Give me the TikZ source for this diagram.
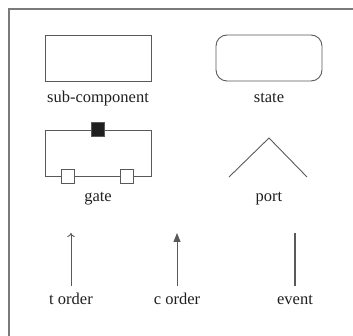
\documentclass[tikz,border=0pt]{standalone}
\usepackage{fontspec}
\setmainfont{Liberation Serif}
\usetikzlibrary{arrows.meta}
\begin{document}
\begin{tikzpicture}[x=1pt,y=-1pt,
  frameline/.style={draw=black!52,line width=1.6pt},
  shapeline/.style={draw=black!65,line width=0.9pt},
  caption/.style={font=\fontsize{16.5}{18}\selectfont,text=black!88,inner sep=0pt,anchor=base},
  pin/.style={shapeline,minimum size=13.5pt,inner sep=0pt}]
\useasboundingbox (0,0) rectangle (353,336);
% legend frame: top and left edges only
\draw[frameline] (9,336) -- (9,9) -- (353,9);
% sub-component
\node[shapeline,minimum width=106pt,minimum height=46pt,inner sep=0pt] (sub) at (98,58) {};
\node[caption] (subl) at (98,103) {sub-component};
% state
\node[shapeline,rounded corners=11pt,minimum width=106pt,minimum height=46pt,inner sep=0pt] (state) at (269,58) {};
\node[caption] (statel) at (269,103) {state};
% gate
\node[shapeline,minimum width=106pt,minimum height=46pt,inner sep=0pt] (gate) at (98,153) {};
\node[pin,fill=black!88] (gtop) at (gate.north) {};
\node[pin,fill=white] (gl) at ([xshift=-30pt]gate.south) {};
\node[pin,fill=white] (gr) at ([xshift=29pt]gate.south) {};
\node[caption] (gatel) at (98,202) {gate};
% port
\coordinate (pl) at (229,177);
\coordinate (pt) at (269,138);
\coordinate (pr) at (307,177);
\draw[shapeline] (pl) -- (pt) -- (pr);
\node[caption] (portl) at (269,202) {port};
% t order, c order, event
\coordinate (ta) at (71,286);
\coordinate (tb) at (71,233);
\draw[shapeline,-{To[length=4pt,width=7.5pt]}] (ta) -- (tb);
\node[caption] (tl) at (71,305) {t order};
\coordinate (ca) at (177,286);
\coordinate (cb) at (177,233);
\draw[shapeline,-{Triangle[length=9pt,width=7pt]}] (ca) -- (cb);
\node[caption] (cl) at (177,305) {c order};
\coordinate (ea) at (295,286);
\coordinate (eb) at (295,233);
\draw[shapeline,line width=1.3pt] (ea) -- (eb);
\node[caption] (el) at (295,305) {event};
\end{tikzpicture}
\end{document}
